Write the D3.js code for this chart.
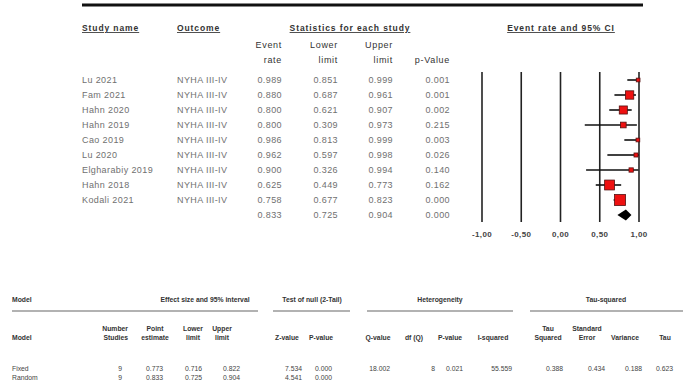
<!DOCTYPE html>
<html>
<head>
<meta charset="utf-8">
<script src="https://cdn.jsdelivr.net/npm/d3@7"></script>
<style>
  body { margin: 0; background: #fff; }
  svg { display: block; }
  .t { font-family: "Liberation Sans", Arial, sans-serif; fill: #707070; font-size: 9px; letter-spacing: 0.4px; }
  .h { font-weight: bold; fill: #333; font-size: 8.5px; letter-spacing: 0.9px; text-decoration: underline; }
  .b { font-family: "Liberation Sans", Arial, sans-serif; font-weight: bold; fill: #333; font-size: 6.8px; }
</style>
</head>
<body>
<script>
// study level data
const studies = ['Lu 2021', 'Fam 2021', 'Hahn 2020', 'Hahn 2019', 'Cao 2019', 'Lu 2020', 'Elgharabiy 2019', 'Hahn 2018', 'Kodali 2021']
const outcomes = studies.map(() => 'NYHA III-IV')
const eventRate = [0.989, 0.880, 0.800, 0.800, 0.986, 0.962, 0.900, 0.625, 0.758]
const lower = [0.851, 0.687, 0.621, 0.309, 0.813, 0.597, 0.326, 0.449, 0.677]
const upper = [0.999, 0.961, 0.907, 0.973, 0.999, 0.998, 0.994, 0.773, 0.823]
const pValue = ['0.001', '0.001', '0.002', '0.215', '0.003', '0.026', '0.140', '0.162', '0.000']
const weight = [3, 15, 14, 7, 3, 3.5, 4, 21, 26]
const summary = { rate: 0.833, lower: 0.725, upper: 0.904, p: '0.000' }
const axisTicks = [-1, -0.5, 0, 0.5, 1]

// model summary table
const modelNames = ['Fixed', 'Random']
const nStudies = [9, 9]
const pointEst = ['0.773', '0.833']
const lowLim = ['0.716', '0.725']
const upLim = ['0.822', '0.904']
const zValue = ['7.534', '4.541']
const pNull = ['0.000', '0.000']
const hetero = ['18.002', '8', '0.021', '55.559']
const tauSq = ['0.388', '0.434', '0.188', '0.623']

const W = 698, H = 387
const svg = d3.select('body').append('svg').attr('width', W).attr('height', H)

const fmt = d3.format('.3f')
const x = d3.scaleLinear().domain([-1, 1]).range([482, 639])
const y = d3.scaleLinear().domain([0, 1]).range([80, 95])
const side = d3.scaleSqrt().domain([0, d3.max(weight)]).range([0, 11])

// top rule
svg.append('line').attr('x1', 82).attr('x2', 643).attr('y1', 5).attr('y2', 5)
    .attr('stroke', '#111').attr('stroke-width', 3)

const txt = (g, cls, xx, yy, s, anchor) => g.append('text').attr('class', cls)
    .attr('x', xx).attr('y', yy).attr('text-anchor', anchor || 'start').text(s)

const tbl = svg.append('g')
txt(tbl, 't h', 82, 31, 'Study name')
txt(tbl, 't h', 177, 31, 'Outcome')
txt(tbl, 't h', 350, 31, 'Statistics for each study', 'middle')
txt(tbl, 't h', 561, 31, 'Event rate and 95% CI', 'middle')

const cols = [282, 338, 393, 450]
const sub = [['Event', 'rate'], ['Lower', 'limit'], ['Upper', 'limit'], ['', 'p-Value']]
sub.forEach((s, i) => {
    txt(tbl, 't', cols[i], 48, s[0], 'end').style('fill', '#333').style('letter-spacing', '0.7px')
    txt(tbl, 't', cols[i], 63, s[1], 'end').style('fill', '#333').style('letter-spacing', '0.7px')
})

studies.forEach((s, i) => {
    const yy = y(i) + 3
    txt(tbl, 't', 82, yy, s)
    txt(tbl, 't', 177, yy, outcomes[i])
    txt(tbl, 't', cols[0], yy, fmt(eventRate[i]), 'end')
    txt(tbl, 't', cols[1], yy, fmt(lower[i]), 'end')
    txt(tbl, 't', cols[2], yy, fmt(upper[i]), 'end')
    txt(tbl, 't', cols[3], yy, pValue[i], 'end')
})
const ys = y(studies.length) + 3
txt(tbl, 't', cols[0], ys, fmt(summary.rate), 'end')
txt(tbl, 't', cols[1], ys, fmt(summary.lower), 'end')
txt(tbl, 't', cols[2], ys, fmt(summary.upper), 'end')
txt(tbl, 't', cols[3], ys, summary.p, 'end')

// forest plot
const fp = svg.append('g')
fp.selectAll('line.grid').data(axisTicks).enter().append('line')
    .attr('x1', d => x(d)).attr('x2', d => x(d))
    .attr('y1', 72).attr('y2', 222)
    .attr('stroke', '#222').attr('stroke-width', 1.6)

fp.selectAll('text.tick').data(axisTicks).enter().append('text')
    .attr('class', 't').style('fill', '#444').style('font-weight', 'bold').style('font-size', '8px')
    .attr('x', d => x(d)).attr('y', 237).attr('text-anchor', 'middle')
    .text(d => d3.format('.2f')(d).replace('.', ',').replace('−', '-'))

fp.selectAll('line.ci').data(studies).enter().append('line')
    .attr('x1', (d, i) => x(lower[i])).attr('x2', (d, i) => x(upper[i]))
    .attr('y1', (d, i) => y(i)).attr('y2', (d, i) => y(i))
    .attr('stroke', '#111').attr('stroke-width', 1.6)

fp.selectAll('rect.pt').data(studies).enter().append('rect')
    .attr('x', (d, i) => x(eventRate[i]) - side(weight[i]) / 2)
    .attr('y', (d, i) => y(i) - side(weight[i]) / 2)
    .attr('width', (d, i) => side(weight[i]))
    .attr('height', (d, i) => side(weight[i]))
    .attr('fill', '#ee1111').attr('stroke', '#551111').attr('stroke-width', 0.8)

const yd = y(studies.length)
fp.append('path')
    .attr('d', `M${x(summary.lower)},${yd}L${x(summary.rate)},${yd - 5.5}L${x(summary.upper)},${yd}L${x(summary.rate)},${yd + 5.5}Z`)
    .attr('fill', '#000')

// bottom summary table
const bt = svg.append('g')
txt(bt, 'b', 12, 302, 'Model')
txt(bt, 'b', 205, 302, 'Effect size and 95% interval', 'middle')
txt(bt, 'b', 312, 302, 'Test of null (2-Tail)', 'middle')
txt(bt, 'b', 440, 302, 'Heterogeneity', 'middle')
txt(bt, 'b', 606, 302, 'Tau-squared', 'middle')
const rules = [[12, 258], [273, 350], [367, 513], [530, 683]]
bt.selectAll('line.rule').data(rules).enter().append('line')
    .attr('x1', d => d[0]).attr('x2', d => d[1]).attr('y1', 311).attr('y2', 311)
    .attr('stroke', '#999').attr('stroke-width', 1.5)

txt(bt, 'b', 12, 340, 'Model')
const heads = [
    [128, ['Number', 'Studies'], 'end'], [155, ['Point', 'estimate']], [193, ['Lower', 'limit']],
    [222, ['Upper', 'limit']], [287, ['', 'Z-value']], [321, ['', 'P-value']],
    [378, ['', 'Q-value']], [414, ['', 'df (Q)']], [450, ['', 'P-value']], [493, ['', 'I-squared']],
    [548, ['Tau', 'Squared']], [587, ['Standard', 'Error']], [625, ['', 'Variance']], [665, ['', 'Tau']]
]
heads.forEach(h => {
    txt(bt, 'b', h[0], 331, h[1][0], h[2] || 'middle')
    txt(bt, 'b', h[0], 340, h[1][1], h[2] || 'middle')
})

const valCols = [122, 163, 202, 240, 302, 332, 390, 435, 463, 512, 563, 605, 642, 673]
modelNames.forEach((m, i) => {
    const yy = 371 + i * 9
    txt(bt, 'b', 12, yy, m).style('font-weight', 'normal').style('fill', '#444')
    const vals = [nStudies[i], pointEst[i], lowLim[i], upLim[i], zValue[i], pNull[i]]
        .concat(i === 0 ? hetero.concat(tauSq) : [])
    vals.forEach((v, j) => txt(bt, 'b', valCols[j], yy, v, 'end').style('font-weight', 'normal').style('fill', '#444'))
})
</script>
</body>
</html>
